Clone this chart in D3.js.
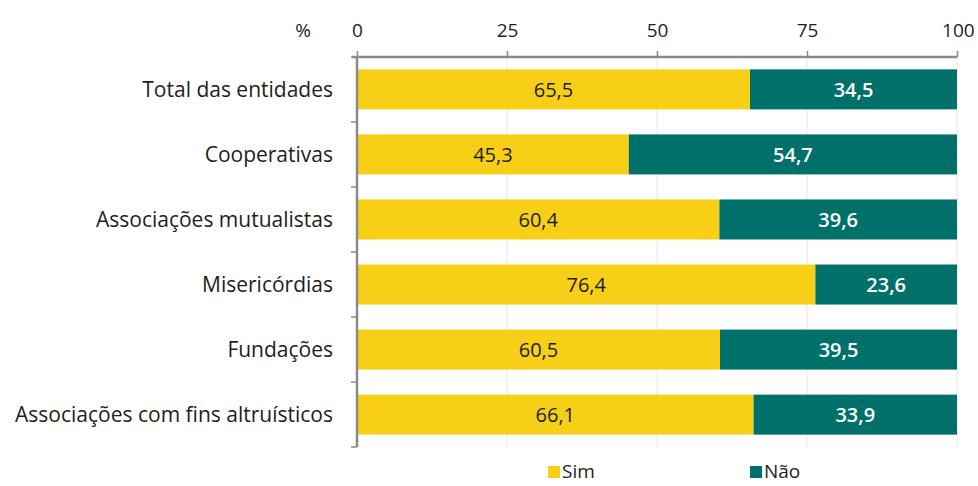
<!DOCTYPE html>
<html>
<head>
<meta charset="utf-8">
<script src="https://cdn.jsdelivr.net/npm/d3@7"></script>
<style>
  body { margin: 0; background: #fff; }
  text { font-family: "Open Sans", "Noto Sans", sans-serif; }
</style>
</head>
<body>
<script>
// data
var categorias = ["Total das entidades", "Cooperativas", "Associações mutualistas",
  "Misericórdias", "Fundações", "Associações com fins altruísticos"];
var sim = [65.5, 45.3, 60.4, 76.4, 60.5, 66.1];
var nao = [34.5, 54.7, 39.6, 23.6, 39.5, 33.9];
var ticks = [0, 25, 50, 75, 100];
var series = ["Sim", "Não"];

var cores = { Sim: "#F6CF16", Não: "#00706B" };
var W = 978, H = 486;
var margin = { top: 57, left: 357, right: 21, bottom: 39 };
var fs = 20;

var svg = d3.select("body").append("svg")
  .attr("width", W).attr("height", H);

var x = d3.scaleLinear().domain([0, 100]).range([margin.left, W - margin.right]);
var y = d3.scaleBand().domain(categorias).range([margin.top, H - margin.bottom]).paddingInner(0.385).paddingOuter(0.19);

// gridlines
svg.append("g").selectAll("line").data(ticks.slice(1)).enter().append("line")
  .attr("x1", function(d){ return x(d); }).attr("x2", function(d){ return x(d); })
  .attr("y1", margin.top).attr("y2", H - margin.bottom)
  .attr("stroke", "#e6e6e6").attr("stroke-width", 1);

// bars
var linhas = categorias.map(function(c, i){ return { cat: c, Sim: sim[i], Não: nao[i] }; });
var stack = d3.stack().keys(series)(linhas);

var g = svg.append("g").selectAll("g").data(stack).enter().append("g")
  .attr("fill", function(d){ return cores[d.key]; });

g.selectAll("rect").data(function(d){ return d; }).enter().append("rect")
  .attr("x", function(d){ return x(d[0]); })
  .attr("width", function(d){ return x(d[1]) - x(d[0]); })
  .attr("y", function(d){ return y(d.data.cat); })
  .attr("height", y.bandwidth());

g.selectAll("text").data(function(d){ return d.map(function(v){ v.key = d.key; return v; }); })
  .enter().append("text")
  .attr("x", function(d){ return (x(d[0]) + x(d[1])) / 2; })
  .attr("y", function(d){ return y(d.data.cat) + y.bandwidth() / 2; })
  .attr("dy", "0.36em")
  .attr("text-anchor", "middle")
  .attr("font-size", fs)
  .attr("font-weight", function(d){ return d.key == "Não" ? 600 : 500; })
  .attr("fill", function(d){ return d.key == "Não" ? "#fff" : "#1e1e1e"; })
  .text(function(d){ return d3.format(".1f")(d[1] - d[0]).replace(".", ","); });

// top axis
var eixoX = svg.append("g").attr("transform", "translate(0," + margin.top + ")")
  .call(d3.axisTop(x).tickValues(ticks).tickSize(6).tickPadding(14));
eixoX.select(".domain").attr("stroke", "#8a8a8a").attr("stroke-width", 2.5)
  .attr("d", "M" + (margin.left - 5) + ",0H" + x(100));
eixoX.selectAll(".tick line").attr("stroke", "#8a8a8a").attr("stroke-width", 1.5);
eixoX.selectAll(".tick text").attr("font-size", 19).attr("fill", "#1e1e1e")
  .attr("font-family", "Open Sans, sans-serif");
eixoX.selectAll(".tick").filter(function(d){ return d == 100; }).select("text")
  .attr("text-anchor", "end").attr("dx", "0.9em");

svg.append("text").attr("x", 303).attr("y", 37)
  .attr("text-anchor", "middle").attr("font-size", 19).attr("fill", "#1e1e1e").text("%");

// left axis
var bordas = categorias.map(function(c){ return y(c) - y.step() * y.paddingInner() / 2; }).slice(1);
bordas.unshift(margin.top);
bordas.push(H - margin.bottom);
var eixoY = svg.append("g");
eixoY.append("line").attr("x1", margin.left).attr("x2", margin.left)
  .attr("y1", margin.top).attr("y2", H - margin.bottom)
  .attr("stroke", "#8a8a8a").attr("stroke-width", 2.5);
eixoY.selectAll(".tk").data(bordas).enter().append("line")
  .attr("x1", margin.left - 6).attr("x2", margin.left)
  .attr("y1", function(d){ return d; }).attr("y2", function(d){ return d; })
  .attr("stroke", "#8a8a8a").attr("stroke-width", 1.5);
eixoY.selectAll("text").data(categorias).enter().append("text")
  .attr("x", margin.left - 24)
  .attr("y", function(d){ return y(d) + y.bandwidth() / 2; })
  .attr("dy", "0.36em").attr("text-anchor", "end")
  .attr("font-size", 21).attr("fill", "#1e1e1e")
  .text(function(d){ return d; });

// legend
var legX = [548, 750];
var leg = svg.append("g").selectAll("g").data(series).enter().append("g")
  .attr("transform", function(d, i){ return "translate(" + legX[i] + "," + 466 + ")"; });
leg.append("rect").attr("width", 12).attr("height", 12)
  .attr("fill", function(d){ return cores[d]; });
leg.append("text").attr("x", 14).attr("y", 6).attr("dy", "0.34em")
  .attr("font-size", 19).attr("fill", "#1e1e1e").text(function(d){ return d; });
</script>
</body>
</html>
